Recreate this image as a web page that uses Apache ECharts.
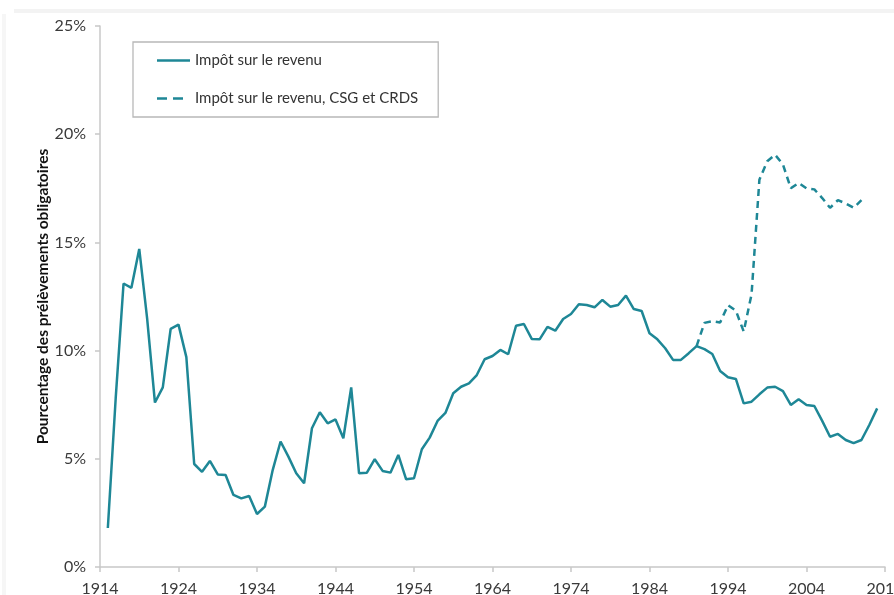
<!DOCTYPE html>
<html>
<head>
<meta charset="utf-8">
<script src="https://cdn.jsdelivr.net/npm/echarts@6/dist/echarts.min.js"></script>
<style>
html,body{margin:0;padding:0;background:#fff;}
#chart{width:894px;height:595px;}
</style>
</head>
<body>
<div id="chart"></div>
<script>
// Axis categories: years 1914..2014
var firstYear = 1914;
var lastYear = 2014;

// Impôt sur le revenu (solid), 1915..2013, % of compulsory levies
var irStart = 1915;
var irValues = [
  1.8, 7.8, 13.1, 12.9, 14.7, 11.5, 7.6, 8.3, 11.0, 11.2,
  9.7, 4.76, 4.4, 4.9, 4.28, 4.25, 3.33, 3.17, 3.28, 2.45,
  2.79, 4.48, 5.8, 5.1, 4.33, 3.87, 6.41, 7.15, 6.64, 6.82,
  5.95, 8.3, 4.33, 4.36, 4.98, 4.44, 4.36, 5.18, 4.05, 4.1,
  5.44, 5.98, 6.75, 7.12, 8.03, 8.33, 8.49, 8.87, 9.6, 9.75,
  10.03, 9.83, 11.15, 11.23, 10.54, 10.52, 11.1, 10.92, 11.46, 11.69,
  12.14, 12.11, 12.0, 12.34, 12.03, 12.11, 12.54, 11.92, 11.83, 10.8,
  10.52, 10.11, 9.57, 9.57, 9.88, 10.21, 10.07, 9.84, 9.06, 8.77,
  8.69, 7.56, 7.64, 7.98, 8.29, 8.33, 8.13, 7.49, 7.75, 7.49,
  7.44, 6.75, 6.02, 6.15, 5.87, 5.72, 5.87, 6.56, 7.33
];

// Impôt sur le revenu, CSG et CRDS (dashed), 1990..2011
var csgStart = 1990;
var csgValues = [
  10.21, 11.28, 11.36, 11.3, 12.1, 11.85, 10.88, 12.6, 17.9, 18.75,
  19.05, 18.6, 17.5, 17.75, 17.5, 17.45, 17.05, 16.6, 16.95, 16.8,
  16.6, 16.95
];

var seriesNames = ['Impôt sur le revenu', 'Impôt sur le revenu, CSG et CRDS'];
var yAxisName = 'Pourcentage des prélèvements obligatoires';

// Build category list and aligned data
var years = [];
for (var y = firstYear; y <= lastYear; y++) years.push(String(y));
function align(start, vals) {
  return years.map(function (yr) {
    var i = Number(yr) - start;
    return (i >= 0 && i < vals.length) ? vals[i] : null;
  });
}

var teal = '#1E8796';
var font = 'Lato, "Open Sans", sans-serif';

var chart = echarts.init(document.getElementById('chart'), null, {renderer: 'canvas'});
chart.setOption({
  backgroundColor: '#ffffff',
  animation: false,
  textStyle: {fontFamily: font},
  graphic: [
    {type: 'rect', shape: {x: 14, y: 9, width: 880, height: 4}, style: {fill: '#f3f3f3'}, silent: true},
    {type: 'rect', shape: {x: 2, y: 14, width: 4, height: 581}, style: {fill: '#f6f6f6'}, silent: true}
  ],
  grid: {left: 100, right: 9, top: 26, bottom: 28, containLabel: false, outerBoundsMode: 'none'},
  legend: {
    orient: 'vertical',
    left: 133,
    top: 42,
    padding: [11, 20, 11, 24],
    itemGap: 23,
    itemWidth: 33,
    itemHeight: 14,
    borderColor: '#b8b8b8',
    borderWidth: 1.3,
    textStyle: {fontFamily: font, fontSize: 15, color: '#333'},
    data: [
      {name: seriesNames[0], icon: 'path://M0,0 L33,0 L33,2.5 L0,2.5 Z'},
      {name: seriesNames[1], icon: 'path://M0,0 L10,0 L10,2.5 L0,2.5 Z M16,0 L26,0 L26,2.5 L16,2.5 Z M32.95,1.2 L33,1.2 L33,1.25 Z'}
    ]
  },
  xAxis: {
    type: 'category',
    data: years,
    boundaryGap: false,
    axisLine: {lineStyle: {color: '#c8c8c8', width: 1.5}},
    axisTick: {show: true, interval: 9, length: 5, lineStyle: {color: '#c8c8c8', width: 1.5}},
    axisLabel: {interval: 9, margin: 14, fontSize: 16, color: '#3a3a3a', fontFamily: font, showMaxLabel: true},
    splitLine: {show: false}
  },
  yAxis: {
    type: 'value',
    min: 0,
    max: 25,
    interval: 5,
    name: yAxisName,
    nameLocation: 'middle',
    nameRotate: 90,
    nameGap: 49,
    nameMoveOverlap: false,
    nameTextStyle: {fontSize: 15.5, fontWeight: 'bold', color: '#111', fontFamily: font},
    axisLine: {show: true, lineStyle: {color: '#c8c8c8', width: 1.5}},
    axisTick: {show: true, length: 5, lineStyle: {color: '#c8c8c8', width: 1.5}},
    axisLabel: {formatter: '{value}%', margin: 14, fontSize: 16, color: '#3a3a3a', fontFamily: font},
    splitLine: {show: false}
  },
  series: [
    {
      name: seriesNames[0],
      type: 'line',
      data: align(irStart, irValues),
      symbol: 'none',
      connectNulls: false,
      itemStyle: {color: teal},
      lineStyle: {color: teal, width: 2.5},
      z: 3
    },
    {
      name: seriesNames[1],
      type: 'line',
      data: align(csgStart, csgValues),
      symbol: 'none',
      itemStyle: {color: teal},
      lineStyle: {color: teal, width: 2.5, type: [7, 5]},
      z: 2
    }
  ]
});
</script>
</body>
</html>
